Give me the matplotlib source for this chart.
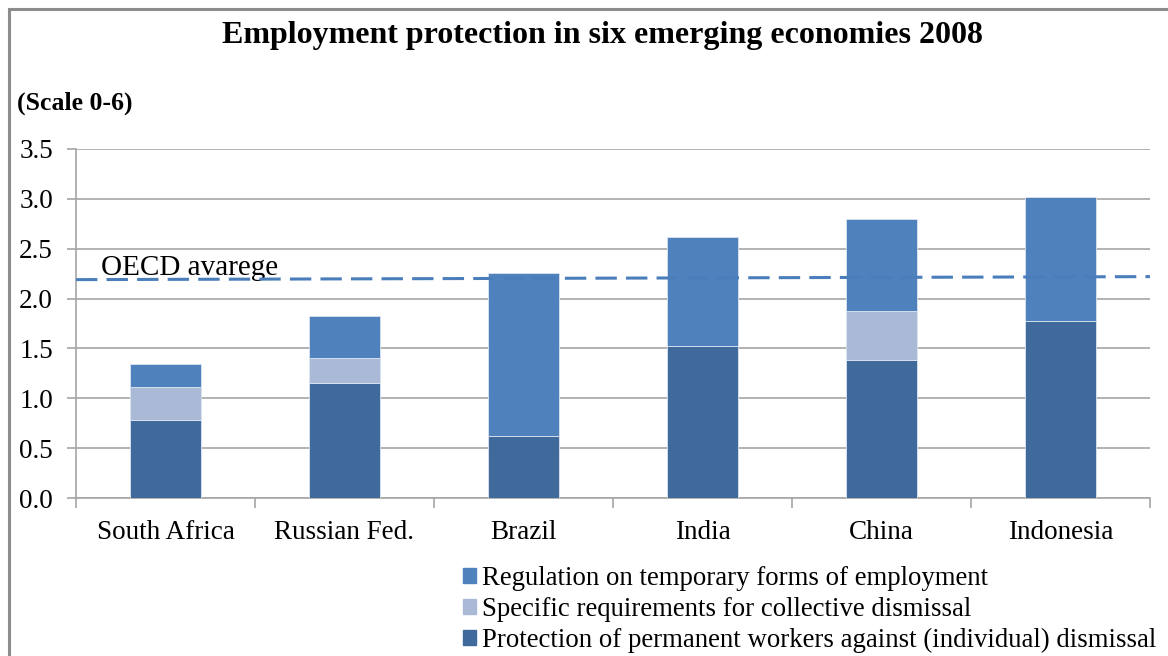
import numpy as np
import matplotlib
matplotlib.use('Agg')
import matplotlib.pyplot as plt
from matplotlib.patches import Patch, Rectangle

countries = ['South Africa', 'Russian Fed.', 'Brazil', 'India', 'China', 'Indonesia']
permanent = [0.78, 1.15, 0.62, 1.52, 1.38, 1.78]
collective = [0.33, 0.25, 0.0, 0.0, 0.50, 0.0]
temporary = [0.23, 0.43, 1.64, 1.10, 0.92, 1.24]
oecd_avg = [2.19, 2.22]  # line drifts slightly upward left to right

c_temp = '#4F81BD'
c_coll = '#AAB9D6'
c_perm = '#416A9C'
grid_c = '#A6A6A6'

plt.rcParams['font.family'] = ['Liberation Serif', 'DejaVu Serif']

fig = plt.figure(figsize=(11.68, 6.56), dpi=100)
ax = fig.add_axes([76/1168, 1 - 498/656, (1150 - 76)/1168, (498 - 149)/656])

x = np.arange(len(countries))
perm = np.array(permanent)
coll = np.array(collective)
temp = np.array(temporary)
w = 0.4
ax.bar(x, perm, w, color=c_perm, edgecolor='#DCE4F0', linewidth=0.6, zorder=3)
ax.bar(x, coll, w, bottom=perm, color=c_coll, edgecolor='#DCE4F0', linewidth=0.6, zorder=3)
ax.bar(x, temp, w, bottom=perm + coll, color=c_temp, edgecolor='#DCE4F0', linewidth=0.6, zorder=3)

ax.plot([-0.5, 5.5], oecd_avg, ls=(0, (7, 3)), color='#4A7EBB', lw=2.2, zorder=4)
ax.text(-0.36, 2.235, 'OECD avarege', fontsize=21, va='baseline', ha='left')

ax.set_xlim(-0.5, 5.5)
ax.set_ylim(0, 3.5)
ax.set_yticks(np.arange(0, 3.51, 0.5))
ax.set_yticklabels([f'{v:.1f}' for v in np.arange(0, 3.51, 0.5)], fontsize=19.5)
ax.yaxis.grid(True, color=grid_c, lw=1.2, zorder=0)
ax.set_axisbelow(True)

ax.set_xticks(x)
ax.set_xticklabels(countries, fontsize=19.5)
ax.set_xticks(np.arange(-0.5, 6, 1), minor=True)
ax.tick_params(axis='x', which='major', length=0, pad=16)
ax.tick_params(axis='x', which='minor', length=7, color=grid_c, width=1.2)
ax.tick_params(axis='y', length=6.5, color=grid_c, width=1.2, pad=10)
for s in ['top', 'right']:
    ax.spines[s].set_visible(False)
for s in ['left', 'bottom']:
    ax.spines[s].set_color(grid_c)
    ax.spines[s].set_linewidth(1.2)

fig.text(603/1168, 1 - 35/656, 'Employment protection in six emerging economies 2008',
         fontsize=23, fontweight='bold', ha='center', va='center')
fig.text(17/1168, 1 - 103/656, '(Scale 0-6)', fontsize=18.5, fontweight='bold',
         ha='left', va='center')

handles = [Patch(color=c_temp), Patch(color=c_coll), Patch(color=c_perm)]
labels = ['Regulation on temporary forms of employment',
          'Specific requirements for collective dismissal',
          'Protection of permanent workers against (individual) dismissal']
fig.legend(handles, labels, loc='upper left', bbox_to_anchor=(463/1168, 1 - 566/656),
           frameon=False, fontsize=19.3, handlelength=0.5, handleheight=0.5,
           handletextpad=0.2, labelspacing=0.22, borderaxespad=0, borderpad=0)

fig.add_artist(Rectangle((9/1168, -0.1), 1.2, 1.1 - 9/656, transform=fig.transFigure,
                         fill=False, edgecolor='#8C8C8C', lw=2.2))

fig.savefig('out.png', dpi=100)
